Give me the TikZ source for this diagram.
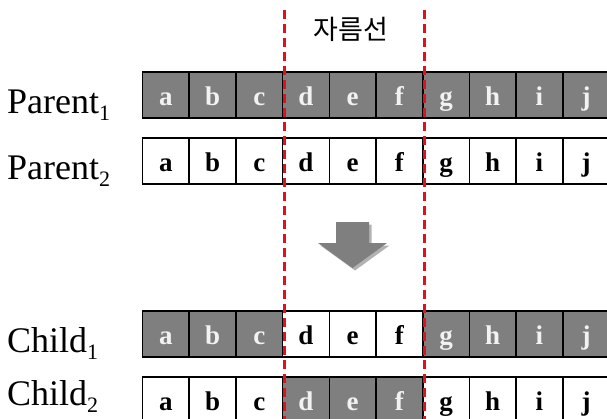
\documentclass[tikz,border=0pt]{standalone}
\usepackage{fontspec}
\setmainfont{Liberation Serif}
\newfontfamily\kor{Noto Sans CJK KR}
\usetikzlibrary{shadows}
\definecolor{cellgray}{HTML}{7F7F7F}
\definecolor{celltext}{HTML}{F2F2F2}
\definecolor{cutred}{HTML}{E0101E}
\tikzset{
  cell/.style={draw=black, line width=1.6pt, minimum width=46.7pt, minimum height=46pt,
    inner sep=0pt, anchor=north west, text height=24pt, text depth=2pt,
    font=\bfseries\fontsize{27}{27}\selectfont},
  gc/.style={cell, fill=cellgray, text=celltext},
  wc/.style={cell, fill=white, text=black},
  rowlabel/.style={anchor=base west, inner sep=0pt, font=\fontsize{36}{40}\selectfont},
  cutline/.style={draw=cutred, line width=3pt, dash pattern=on 9pt off 5pt},
  arrowshape/.style={fill=cellgray, draw=none, drop shadow={shadow xshift=2.5pt, shadow yshift=-2.5pt, opacity=0.3, fill=black}},
}
\newcommand{\lbl}[2]{#1\raisebox{-7pt}{\fontsize{22}{22}\selectfont #2}}
\begin{document}
\begin{tikzpicture}[x=1pt,y=-1pt]
\useasboundingbox (0,0) rectangle (607,418);
\clip (0,0) rectangle (607,418);
\fill[white] (0,0) rectangle (607,418);
% rows
\foreach \l [count=\i from 0] in {a,b,c,d,e,f,g,h,i,j}{
  \node[gc] (pa\l) at ({141.7+46.7*\i},71) {\l};
  \node[wc] (pb\l) at ({141.7+46.7*\i},137) {\l};
}
\foreach \l/\s [count=\i from 0] in {a/gc,b/gc,c/gc,d/wc,e/wc,f/wc,g/gc,h/gc,i/gc,j/gc}{
  \node[\s] (ca\l) at ({141.7+46.7*\i},310) {\l};
}
\foreach \l/\s [count=\i from 0] in {a/wc,b/wc,c/wc,d/gc,e/gc,f/gc,g/wc,h/wc,i/wc,j/wc}{
  \node[\s] (cb\l) at ({141.7+46.7*\i},376) {\l};
}
% labels
\node[rowlabel] (lp1) at (7,113) {\lbl{Parent}{1}};
\node[rowlabel] (lp2) at (7,179) {\lbl{Parent}{2}};
\node[rowlabel] (lc1) at (7,352) {\lbl{Child}{1}};
\node[rowlabel] (lc2) at (7,405) {\lbl{Child}{2}};
% arrow
\path[arrowshape] (336,222) -- (369,222) -- (369,243) -- (387,243) -- (352.5,268)
  -- (318,243) -- (336,243) -- cycle;
% cut lines
\coordinate (c1t) at (284,10);
\coordinate (c1b) at (284,420);
\coordinate (c2t) at (424,10);
\coordinate (c2b) at (424,420);
\draw[cutline] (c1t) -- (c1b);
\draw[cutline] (c2t) -- (c2b);
\node[font=\kor\fontsize{27}{27}\selectfont, inner sep=0pt] (cutlabel) at (351,29) {자름선};
\end{tikzpicture}
\end{document}
